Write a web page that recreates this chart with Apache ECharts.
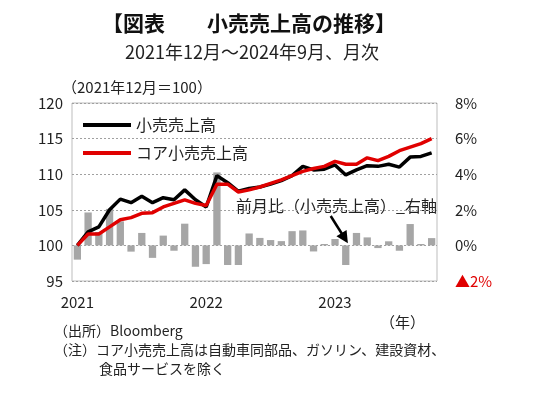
<!DOCTYPE html>
<html><head><meta charset="utf-8">
<script src="https://cdn.jsdelivr.net/npm/echarts@6/dist/echarts.min.js"></script>
<style>html,body{margin:0;padding:0;background:#fff}#c{width:540px;height:393px}</style>
</head><body><div id="c"></div>
<script>
const categories = ["2021-12","2022-01","2022-02","2022-03","2022-04","2022-05","2022-06","2022-07","2022-08","2022-09","2022-10","2022-11",
  "2022-12","2023-01","2023-02","2023-03","2023-04","2023-05","2023-06","2023-07","2023-08","2023-09","2023-10","2023-11",
  "2023-12","2024-01","2024-02","2024-03","2024-04","2024-05","2024-06","2024-07","2024-08","2024-09"];
const retailSales = [100, 101.9, 102.6, 105.0, 106.5, 106.0, 106.9, 106.0, 106.7, 106.4, 107.8, 106.4,
  105.4, 109.8, 108.8, 107.6, 108.0, 108.2, 108.6, 109.1, 109.8, 111.1, 110.6, 110.7,
  111.3, 109.9, 110.6, 111.2, 111.1, 111.4, 111.0, 112.4, 112.5, 113.0];
const coreRetailSales = [100, 101.6, 101.6, 102.6, 103.6, 103.9, 104.5, 104.6, 105.4, 105.9, 106.4, 105.9,
  105.6, 108.6, 108.6, 107.5, 107.8, 108.2, 108.7, 109.2, 109.8, 110.4, 110.8, 111.1,
  111.8, 111.4, 111.4, 112.3, 111.9, 112.5, 113.3, 113.8, 114.3, 115.0];
const momChange = [-0.8, 1.85, 0.75, 2.05, 1.35, -0.35, 0.7, -0.7, 0.55, -0.3, 1.22, -1.2,
  -1.05, 4.1, -1.1, -1.1, 0.67, 0.42, 0.3, 0.24, 0.8, 0.84, -0.34, 0.08,
  0.36, -1.1, 0.7, 0.45, -0.15, 0.23, -0.3, 1.2, 0.08, 0.41];
const leftTicks = {min: 95, max: 120, interval: 5};
const rightTicks = {min: -2, max: 8, interval: 2};
const arrowFrom = [23.6, 1.65];
const arrowTo = [25.2, 0.12];

const FONT = '"Noto Sans CJK JP", sans-serif';
const chart = echarts.init(document.getElementById('c'), null, {renderer: 'canvas'});
const baseGraphic = [
  {type: 'text', left: 62, top: 80, style: {text: '（2021年12月＝100）', font: '15px ' + FONT, fill: '#222'}},
  {type: 'text', left: 236, top: 198, style: {text: '前月比（小売売上高）_右軸', font: '16px ' + FONT, fill: '#222'}},
  {type: 'text', left: 380, top: 315, style: {text: '（年）', font: '15px ' + FONT, fill: '#222'}},
  {type: 'text', left: 54, top: 324, style: {text: '（出所）Bloomberg', font: '14px ' + FONT, fill: '#222'}},
  {type: 'text', left: 54, top: 343, style: {text: '（注）コア小売売上高は自動車同部品、ガソリン、建設資材、', font: '14px ' + FONT, fill: '#222'}},
  {type: 'text', left: 99, top: 362, style: {text: '食品サービスを除く', font: '14px ' + FONT, fill: '#222'}}
];
chart.setOption({
  backgroundColor: '#fff',
  animation: false,
  textStyle: {fontFamily: FONT},
  title: [
    {text: '【図表　　小売売上高の推移】', left: 244, top: 8, textAlign: 'center',
     textStyle: {fontFamily: FONT, fontSize: 21, fontWeight: 'bold', color: '#111'}},
    {text: '2021年12月～2024年9月、月次', left: 247, top: 38, textAlign: 'center',
     textStyle: {fontFamily: FONT, fontSize: 18, fontWeight: 'normal', color: '#222'}}
  ],
  legend: {
    orient: 'vertical', left: 78, top: 112, itemWidth: 48, itemHeight: 4, itemGap: 12,
    icon: 'rect', data: ['小売売上高', 'コア小売売上高'],
    textStyle: {fontFamily: FONT, fontSize: 16, color: '#222'}
  },
  grid: {left: 72, right: 103, top: 103, bottom: 112, show: true, borderColor: '#bdbdbd', borderWidth: 1},
  xAxis: {
    type: 'category', data: categories, boundaryGap: true,
    axisLine: {show: false}, axisTick: {show: false},
    axisLabel: {interval: 11, margin: 14, fontSize: 15, color: '#222', fontFamily: FONT,
      formatter: v => v.slice(0, 4)}
  },
  yAxis: [
    {type: 'value', min: leftTicks.min, max: leftTicks.max, interval: leftTicks.interval,
     axisLine: {show: false}, axisTick: {show: false},
     axisLabel: {fontSize: 15, color: '#222', margin: 9, fontFamily: FONT},
     splitLine: {show: true, lineStyle: {type: [2, 2], color: '#a0a0a0', width: 1}}},
    {type: 'value', min: rightTicks.min, max: rightTicks.max, interval: rightTicks.interval,
     axisLine: {show: false}, axisTick: {show: false}, splitLine: {show: false},
     axisLabel: {fontSize: 15, color: '#222', margin: 18, fontFamily: FONT,
       formatter: v => v < 0 ? '{neg|▲' + (-v) + '%}' : v + '%',
       rich: {neg: {color: '#e00000', fontSize: 15, fontFamily: FONT}}}}
  ],
  graphic: baseGraphic,
  series: [
    {name: '前月比', type: 'bar', yAxisIndex: 1, data: momChange, barCategoryGap: '32%',
     itemStyle: {color: '#a6a6a6'}, z: 1},
    {name: '小売売上高', type: 'line', yAxisIndex: 0, data: retailSales, symbol: 'none',
     lineStyle: {color: '#000', width: 3.5}, itemStyle: {color: '#000'}, z: 3},
    {name: 'コア小売売上高', type: 'line', yAxisIndex: 0, data: coreRetailSales, symbol: 'none',
     lineStyle: {color: '#e00000', width: 3.5}, itemStyle: {color: '#e00000'}, z: 4}
  ]
});
// arrow annotation placed through the chart's own scales (fractional category positions interpolated)
const finder = {xAxisIndex: 0, yAxisIndex: 1};
function toPixel(pt) {
  const i0 = Math.floor(pt[0]), f = pt[0] - i0;
  const a = chart.convertToPixel(finder, [i0, pt[1]]);
  const b = chart.convertToPixel(finder, [i0 + 1, pt[1]]);
  return [a[0] + (b[0] - a[0]) * f, a[1]];
}
const p1 = toPixel(arrowFrom);
const p2 = toPixel(arrowTo);
const dx = p2[0] - p1[0], dy = p2[1] - p1[1];
const len = Math.sqrt(dx * dx + dy * dy);
const ux = dx / len, uy = dy / len;
const headLen = 12, headW = 6;
const base = [p2[0] - ux * headLen, p2[1] - uy * headLen];
chart.setOption({
  graphic: baseGraphic.concat([
    {type: 'line', z: 10, shape: {x1: p1[0], y1: p1[1], x2: base[0] + ux, y2: base[1] + uy},
     style: {stroke: '#000', lineWidth: 2.5}},
    {type: 'polygon', z: 10, shape: {points: [
      [p2[0], p2[1]],
      [base[0] - uy * headW, base[1] + ux * headW],
      [base[0] + uy * headW, base[1] - ux * headW]]},
     style: {fill: '#000'}}
  ])
});
</script></body></html>
